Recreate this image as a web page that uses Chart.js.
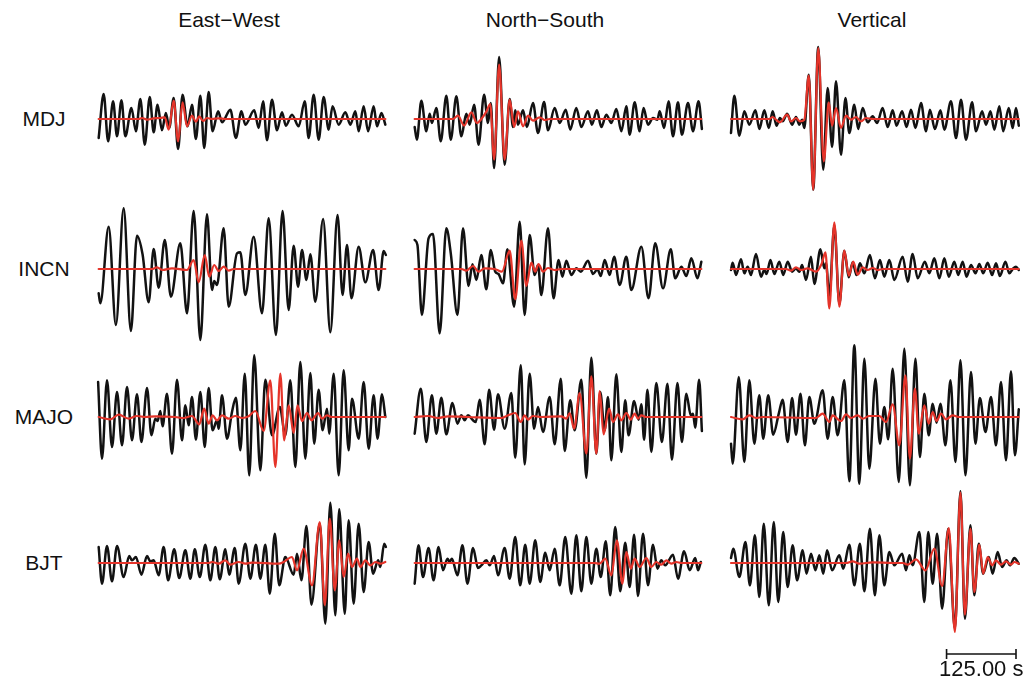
<!DOCTYPE html>
<html>
<head>
<meta charset="utf-8">
<script src="https://cdn.jsdelivr.net/npm/chart.js@4/dist/chart.umd.min.js"></script>
<style>
  html, body { margin: 0; padding: 0; background: #fff; }
  #wrap { position: relative; width: 1034px; height: 682px; overflow: hidden;
          font-family: "Liberation Sans", Arial, Helvetica, sans-serif; color: #111; }
  .lbl { position: absolute; font-size: 21px; white-space: nowrap; transform: translate(-50%, -50%); }
  .lbl.bar { font-size: 22px; }
  canvas { position: absolute; }
</style>
</head>
<body>
<div id="wrap"></div>
<script>
// Components (columns) and stations (rows)
const components = ['East\u2212West', 'North\u2212South', 'Vertical'];
const stations = ['MDJ', 'INCN', 'MAJO', 'BJT'];

// Waveforms as [time (s), normalized amplitude] turning points.
// "Obs" = recorded trace (black), "Syn" = synthetic trace (red).
const mdjEwObs = [[12,-57],[21,75],[29,-67],[38,53],[45,-52],[53,56],[60,-52],[71,33],[79,-37],[87,60],[95,-77],[104,66],[111,-40],[118,43],[126,-34],[133,18],[139,-27],[147,63],[155,-90],[163,73],[172,-22],[180,43],[187,-60],[195,70],[202,-87],[210,81],[217,-37],[227,23],[234,-10],[249,28],[259,-57],[269,23],[276,-17],[292,26],[300,-27],[308,53],[315,-64],[324,58],[333,-34],[342,20],[349,-20],[360,13],[372,-22],[383,53],[390,-57],[399,73],[408,-62],[417,66],[426,-32],[433,38],[444,-17],[456,20],[465,-17],[474,23],[480,-37],[489,38],[497,-37],[507,38],[513,-22],[521,18],[528,-17]];
const mdjEwSyn = [[12,0],[84,0],[90,3],[99,-2],[111,2],[123,3],[131,5],[138,-32],[147,55],[155,-67],[163,50],[171,-22],[180,10],[187,-8],[193,8],[200,-6],[207,3],[216,0],[228,2],[240,0],[528,0]];

const mdjNsObs = [[12,-24],[16,-62],[24,55],[33,-37],[39,16],[43,-12],[51,33],[59,-67],[69,70],[77,-62],[87,68],[96,-52],[105,16],[111,-17],[119,43],[127,-77],[137,73],[144,-12],[149,48],[155,-147],[164,186],[174,-137],[183,60],[189,-24],[193,26],[198,-17],[207,26],[214,-24],[225,48],[234,-42],[245,51],[252,-34],[264,33],[273,-12],[284,28],[292,-32],[303,33],[312,-24],[324,23],[331,-17],[340,26],[348,-24],[357,13],[366,-12],[375,30],[384,-37],[393,38],[399,-47],[408,50],[417,-37],[424,33],[432,-17],[441,3],[449,-2],[453,23],[461,-27],[469,53],[477,-52],[486,50],[493,-47],[504,48],[513,-37],[523,53],[529,-30]];
const mdjNsSyn = [[12,0],[81,0],[90,10],[101,-20],[114,20],[124,-12],[132,0],[141,22],[148,45],[155,-122],[164,163],[174,-122],[183,58],[191,-24],[198,23],[207,-22],[216,10],[225,-5],[237,5],[246,-3],[255,0],[528,0]];

const mdjVObs = [[9,-42],[15,70],[24,-50],[33,23],[42,-17],[53,26],[60,-30],[69,26],[77,-27],[84,23],[91,-20],[97,3],[102,-7],[110,16],[119,-17],[126,6],[132,-17],[137,-2],[141,-27],[149,133],[157,-212],[166,216],[175,-152],[183,93],[191,-84],[198,113],[207,-107],[215,63],[222,-42],[231,43],[238,-30],[246,33],[255,-10],[264,8],[272,-12],[282,33],[291,-24],[300,26],[307,-20],[317,23],[325,-24],[333,28],[341,-27],[351,48],[360,-37],[367,28],[376,-30],[386,26],[393,-32],[405,53],[414,-57],[423,58],[432,-62],[443,50],[450,-37],[461,23],[468,-17],[476,23],[483,-32],[492,38],[499,-37],[509,33],[516,-27],[522,33],[527,-20]];
const mdjVSyn = [[9,0],[78,0],[84,6],[90,-2],[97,-10],[110,13],[117,-7],[126,3],[133,-7],[141,-2],[149,130],[157,-212],[166,213],[176,-127],[185,50],[191,-20],[198,33],[207,-27],[216,10],[225,-2],[234,6],[243,-7],[252,3],[264,0],[527,0]];

const incnEwObs = [[12,-73],[15,-103],[30,127],[43,-168],[57,182],[70,-186],[81,100],[91,44],[102,-100],[111,60],[120,-56],[131,87],[142,-83],[159,77],[171,-133],[183,174],[195,-213],[207,164],[216,-63],[220,-36],[225,-48],[237,122],[246,-113],[261,47],[267,50],[276,-78],[291,97],[306,-133],[318,152],[331,-198],[343,174],[354,-123],[363,70],[371,-53],[378,57],[386,-33],[393,44],[402,-98],[416,150],[429,-190],[442,162],[451,-78],[459,72],[467,-88],[480,67],[492,-40],[506,57],[516,-63],[525,54],[529,42]];
const incnEwSyn = [[12,0],[108,0],[117,5],[127,-3],[144,2],[171,-3],[183,27],[192,-40],[203,42],[211,-23],[220,12],[228,-6],[237,7],[246,-5],[255,0],[528,0]];

const incnNsObs = [[12,87],[17,72],[25,-138],[37,92],[45,105],[57,-193],[69,122],[77,47],[89,-138],[99,122],[109,-51],[116,14],[123,-33],[132,42],[141,-61],[149,57],[157,-8],[163,-15],[171,-43],[179,59],[191,-113],[201,142],[210,-138],[219,102],[228,-18],[234,12],[240,-78],[252,122],[262,-88],[271,27],[278,-23],[285,25],[294,-18],[303,2],[311,-8],[324,25],[333,-15],[341,-1],[347,-21],[354,27],[363,-18],[371,37],[381,-48],[393,37],[402,-63],[420,67],[433,-88],[445,77],[459,-58],[473,59],[481,-28],[492,7],[501,-21],[510,32],[521,-28],[528,22]];
const incnNsSyn = [[12,0],[96,0],[105,-5],[117,9],[127,-8],[138,2],[156,0],[169,-8],[183,55],[193,-91],[204,85],[213,-51],[222,19],[229,-8],[235,15],[243,-8],[252,3],[264,-3],[276,0],[528,0]];

const incnVObs = [[9,-3],[12,19],[18,-18],[27,29],[33,-13],[39,7],[45,-18],[54,45],[63,-23],[69,-3],[73,-15],[80,27],[87,-15],[96,22],[103,-18],[111,22],[119,-8],[126,2],[132,-8],[137,12],[144,-33],[153,37],[159,-45],[170,59],[177,2],[180,17],[186,-80],[195,130],[204,-105],[213,55],[221,-25],[228,20],[235,-18],[241,17],[249,-13],[259,42],[268,-28],[277,27],[285,-23],[294,27],[303,-33],[318,37],[327,-38],[336,45],[345,-28],[358,22],[366,-13],[375,32],[384,-28],[393,32],[401,-23],[411,22],[418,-18],[426,22],[433,-23],[441,12],[449,-13],[456,15],[463,-13],[471,19],[479,-18],[486,17],[493,-21],[503,22],[510,-13],[517,2],[522,7],[527,-3]];
const incnVSyn = [[9,0],[108,0],[117,-5],[126,5],[135,-3],[147,2],[162,-8],[172,15],[179,50],[186,-118],[195,140],[204,-113],[213,55],[221,-20],[229,22],[237,-17],[246,5],[255,-3],[264,3],[273,-3],[282,0],[527,0]];

const majoEwObs = [[11,105],[18,-125],[27,110],[36,-90],[45,75],[54,-85],[63,90],[72,-70],[81,68],[89,-75],[99,87],[107,-55],[114,-5],[118,-12],[123,18],[127,-28],[135,70],[144,-110],[153,112],[162,-70],[168,35],[174,-25],[180,60],[187,-68],[195,75],[203,-90],[210,87],[217,-40],[225,-10],[228,-35],[234,65],[243,-65],[252,15],[259,58],[267,-100],[275,130],[283,-175],[292,185],[303,-160],[312,112],[324,-55],[338,30],[348,-55],[357,110],[366,-150],[375,165],[384,-125],[393,132],[400,-80],[408,82],[415,-40],[423,25],[427,-50],[435,130],[444,-175],[453,140],[462,-100],[468,55],[480,-65],[489,105],[498,-95],[507,65],[514,-65],[522,68],[528,0]];
const majoEwSyn = [[12,0],[33,-7],[48,7],[66,-5],[81,3],[96,0],[114,2],[150,0],[165,-3],[180,3],[193,-22],[202,25],[210,-20],[217,5],[225,-10],[234,5],[246,-5],[258,3],[270,-3],[282,2],[294,18],[309,-42],[321,110],[330,-150],[339,130],[346,-70],[354,35],[363,-48],[370,35],[378,-12],[387,12],[395,-10],[407,12],[414,-5],[423,5],[432,0],[528,0]];

const majoNsObs = [[12,-50],[23,85],[33,-75],[43,65],[51,-50],[60,58],[69,-52],[80,42],[89,-20],[96,5],[102,-10],[108,5],[117,-10],[122,-15],[129,52],[138,-82],[146,82],[155,-38],[162,68],[174,-35],[186,72],[193,-122],[203,155],[210,-142],[219,130],[227,-35],[234,30],[243,-45],[255,60],[264,-82],[275,115],[282,-102],[292,50],[300,-40],[312,112],[321,-182],[330,178],[339,-110],[346,75],[354,-40],[360,60],[366,-130],[375,128],[384,-105],[391,50],[397,-55],[407,48],[415,-8],[420,38],[425,-68],[431,82],[438,-105],[447,102],[457,-75],[467,100],[475,-128],[485,102],[493,-75],[501,70],[509,5],[513,10],[517,-32],[524,112],[529,-42]];
const majoNsSyn = [[12,0],[36,3],[54,-3],[72,2],[108,0],[168,-3],[180,5],[193,12],[203,-15],[210,5],[216,-8],[225,3],[240,0],[276,2],[285,-5],[291,12],[299,-35],[309,72],[321,-110],[330,122],[339,-110],[345,78],[352,-52],[362,25],[369,-15],[378,8],[384,-10],[393,12],[401,-8],[408,10],[414,-5],[420,5],[429,0],[528,0]];

const majoVObs = [[9,-80],[12,-140],[23,120],[33,-135],[42,110],[51,-80],[60,65],[67,-65],[76,65],[85,-53],[95,10],[102,52],[111,-75],[119,57],[126,-53],[134,70],[142,-85],[150,60],[159,-20],[174,80],[183,-65],[192,60],[201,-55],[213,110],[222,-193],[231,215],[240,-200],[249,175],[258,-155],[269,115],[277,-80],[285,30],[292,-67],[300,145],[311,-195],[321,205],[331,-205],[341,175],[349,-120],[357,70],[365,-55],[372,40],[379,-17],[386,40],[395,-85],[404,110],[413,-135],[422,170],[431,-175],[441,135],[449,-80],[457,57],[467,-45],[477,60],[486,-85],[495,105],[504,-130],[513,137],[520,-115],[527,23]];
const majoVSyn = [[9,0],[30,-7],[42,5],[54,-3],[66,0],[162,-3],[174,10],[186,-15],[192,5],[207,-12],[216,8],[225,-3],[237,5],[246,-5],[258,3],[276,3],[288,-15],[300,38],[312,-85],[323,125],[331,-125],[340,85],[347,-50],[357,35],[365,-20],[372,15],[379,-12],[387,10],[396,-7],[408,5],[420,0],[527,0]];

const bjtEwObs = [[12,48],[18,-62],[27,51],[36,-55],[45,51],[57,-42],[67,21],[72,8],[79,18],[89,-35],[99,21],[105,5],[111,8],[120,-37],[129,48],[137,-52],[148,41],[157,-45],[168,38],[177,-47],[185,41],[194,-42],[204,55],[213,-52],[222,48],[230,-49],[240,41],[247,-35],[257,45],[264,-62],[276,58],[285,-47],[295,55],[303,-47],[312,55],[320,-92],[329,88],[337,-67],[348,18],[363,-35],[369,28],[377,-52],[386,111],[395,-125],[410,118],[420,-182],[429,181],[438,-157],[445,161],[455,-152],[462,128],[471,-122],[480,118],[489,-87],[498,63],[506,-32],[515,8],[519,-12],[526,58],[529,48]];
const bjtEwSyn = [[12,0],[210,0],[216,3],[228,-2],[240,8],[249,-5],[264,3],[276,-2],[288,1],[336,-2],[345,3],[360,18],[369,-22],[381,43],[396,-67],[410,123],[419,-127],[428,133],[437,-82],[445,68],[453,-42],[461,28],[468,-12],[477,13],[483,-12],[492,8],[501,-7],[510,3],[519,-2],[528,3]];

const bjtNsObs = [[12,-62],[19,53],[27,-42],[37,45],[46,-52],[55,48],[63,-22],[71,13],[75,3],[79,13],[89,-37],[98,53],[107,-62],[117,45],[126,-15],[132,-7],[141,8],[147,-7],[155,21],[162,-37],[174,45],[183,-47],[193,78],[202,-67],[211,55],[219,-62],[229,68],[238,-57],[247,31],[255,-22],[264,43],[273,-67],[283,78],[294,-92],[303,83],[312,-85],[321,78],[330,-62],[339,43],[347,-42],[356,65],[364,-97],[373,108],[382,-85],[391,61],[399,-72],[407,85],[414,-99],[423,88],[432,-67],[441,55],[449,-17],[456,8],[463,-7],[477,25],[486,-47],[497,35],[507,-22],[517,15],[522,-22],[527,3]];
const bjtNsSyn = [[12,0],[336,0],[345,-2],[355,13],[366,-37],[376,68],[386,-62],[393,33],[401,-17],[408,13],[417,-12],[429,15],[438,-12],[447,3],[456,-5],[465,8],[474,-2],[483,3],[492,0],[528,0]];

const bjtVObs = [[9,15],[13,43],[24,-42],[35,63],[43,-67],[52,83],[60,-102],[68,118],[77,-127],[86,123],[94,-117],[103,93],[111,-72],[120,53],[128,-52],[138,38],[145,-32],[153,28],[161,-22],[168,23],[175,-32],[182,38],[191,-22],[204,23],[211,-17],[222,55],[231,-67],[241,58],[249,-85],[259,103],[268,-97],[276,83],[285,-67],[294,33],[303,-7],[317,28],[324,-22],[330,23],[336,-7],[348,93],[357,-117],[364,93],[372,-62],[380,88],[389,-137],[400,103],[412,-197],[422,215],[430,-167],[440,113],[447,-97],[455,58],[463,-32],[473,18],[480,-32],[489,33],[497,-12],[505,8],[511,-7],[519,15],[527,-2]];
const bjtVSyn = [[9,0],[216,0],[228,5],[240,-2],[264,2],[300,0],[318,0],[327,-5],[342,11],[359,-22],[375,43],[389,-69],[401,105],[412,-207],[422,211],[430,-155],[440,103],[447,-87],[456,55],[463,-32],[471,18],[479,-7],[486,8],[495,-5],[504,5],[513,-5],[519,3],[527,-2]];

// Time scale bar (seconds)
const scaleBarLength = 125;
const scaleBarEnd = 522;

// Table of panels, rows = stations, columns = components
const panels = [
  [[mdjEwObs, mdjEwSyn], [mdjNsObs, mdjNsSyn], [mdjVObs, mdjVSyn]],
  [[incnEwObs, incnEwSyn], [incnNsObs, incnNsSyn], [incnVObs, incnVSyn]],
  [[majoEwObs, majoEwSyn], [majoNsObs, majoNsSyn], [majoVObs, majoVSyn]],
  [[bjtEwObs, bjtEwSyn], [bjtNsObs, bjtNsSyn], [bjtVObs, bjtVSyn]]
];

// ---- layout ----
const wrap = document.getElementById('wrap');
const colLeft = [92, 408, 726];
const rowBase = [119, 269, 417, 563];
const titleX = [229, 545, 872];
const titleY = 20;
const stationX = 44;
const panelW = 300, panelH = 170;
const BLACK = '#121212', RED = '#e5342a';

function addLabel(text, x, y, cls) {
  const d = document.createElement('div');
  d.className = 'lbl' + (cls ? ' ' + cls : '');
  d.textContent = text;
  d.style.left = x + 'px';
  d.style.top = y + 'px';
  wrap.appendChild(d);
  return d;
}

components.forEach((c, i) => addLabel(c, titleX[i], titleY));
stations.forEach((s, i) => addLabel(s, stationX, rowBase[i]));

const toXY = arr => arr.map(p => ({ x: p[0], y: p[1] }));

const scaleBarPlugin = {
  id: 'scaleBar',
  afterDraw(chart) {
    const xs = chart.scales.x;
    const x0 = xs.getPixelForValue(scaleBarEnd - scaleBarLength);
    const x1 = xs.getPixelForValue(scaleBarEnd);
    const y = chart.chartArea.bottom + 6;
    const ctx = chart.ctx;
    ctx.save();
    ctx.strokeStyle = BLACK;
    ctx.lineWidth = 1.6;
    ctx.beginPath();
    ctx.moveTo(x0, y); ctx.lineTo(x1, y);
    ctx.moveTo(x0, y - 5); ctx.lineTo(x0, y + 5);
    ctx.moveTo(x1, y - 5); ctx.lineTo(x1, y + 5);
    ctx.stroke();
    ctx.restore();
  }
};

function makePanel(row, col, obs, syn, withBar) {
  const extra = withBar ? 40 : 0;
  const c = document.createElement('canvas');
  c.width = panelW;
  c.height = panelH + extra;
  c.style.left = colLeft[col] + 'px';
  c.style.top = (rowBase[row] - panelH / 2) + 'px';
  c.style.width = panelW + 'px';
  c.style.height = (panelH + extra) + 'px';
  wrap.appendChild(c);
  return new Chart(c, {
    type: 'line',
    data: {
      datasets: [
        { data: toXY(syn), borderColor: RED, borderWidth: 2.2, order: 0 },
        { data: toXY(obs), borderColor: BLACK, borderWidth: 2.5, order: 1 }
      ]
    },
    options: {
      responsive: false,
      animation: false,
      devicePixelRatio: 1,
      events: [],
      layout: { padding: { left: 0, right: 0, top: 0, bottom: extra } },
      plugins: { legend: { display: false }, tooltip: { enabled: false }, title: { display: false } },
      elements: {
        point: { radius: 0 },
        line: { cubicInterpolationMode: 'monotone', borderCapStyle: 'round', borderJoinStyle: 'round', fill: false }
      },
      scales: {
        x: { type: 'linear', min: 0, max: 540, display: false },
        y: { type: 'linear', min: -255, max: 255, display: false }
      }
    },
    plugins: withBar ? [scaleBarPlugin] : []
  });
}

panels.forEach((rowPanels, r) => {
  rowPanels.forEach((pair, c) => {
    const last = (r === panels.length - 1 && c === rowPanels.length - 1);
    const ch = makePanel(r, c, pair[0], pair[1], last);
    if (last) {
      const xs = ch.scales.x;
      const mid = (xs.getPixelForValue(scaleBarEnd - scaleBarLength) + xs.getPixelForValue(scaleBarEnd)) / 2;
      addLabel(scaleBarLength.toFixed(2) + ' s', colLeft[c] + mid, 669, 'bar');
    }
  });
});
</script>
</body>
</html>
